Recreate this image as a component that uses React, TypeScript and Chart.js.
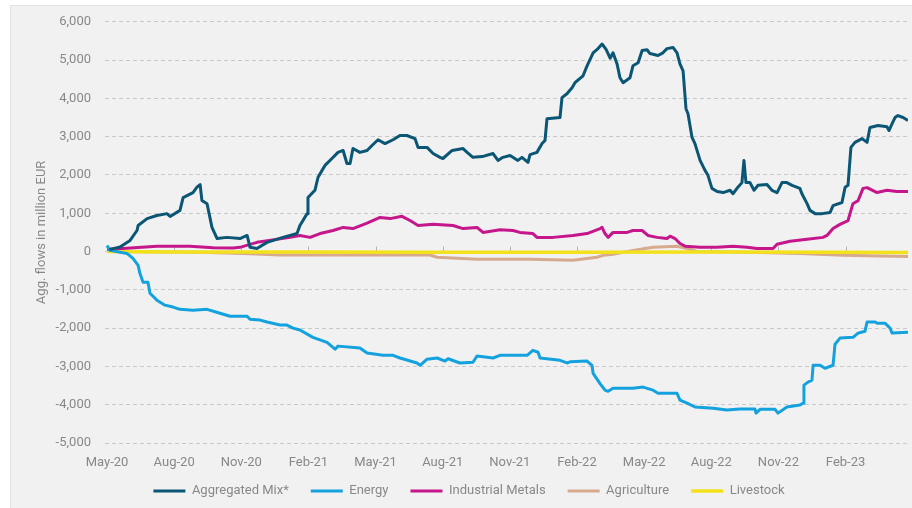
import React, { useEffect, useRef } from "react";
import { Chart, registerables } from "chart.js";

Chart.register(...registerables);

// x = months since 1 May 2020, y = aggregated flows in million EUR
const tickLabels = ["May-20", "Aug-20", "Nov-20", "Feb-21", "May-21", "Aug-21", "Nov-21", "Feb-22", "May-22", "Aug-22", "Nov-22", "Feb-23"];
const seriesNames = ["Aggregated Mix*", "Energy", "Industrial Metals", "Agriculture", "Livestock"];

const aggregatedMix: [number, number][] = [
  [0.1, 50], [0.58, 120], [1.03, 290], [1.34, 550], [1.39, 680], [1.79, 860], [2.23, 940], [2.68, 990], [2.82, 915],
  [3.26, 1075], [3.4, 1410], [3.84, 1540], [4.02, 1680], [4.16, 1750], [4.24, 1335], [4.47, 1250], [4.69, 630],
  [4.92, 340], [5.36, 370], [5.94, 340], [6.26, 420], [6.39, 110], [6.7, 80], [7.15, 240], [7.86, 370], [8.49, 470],
  [8.62, 680], [8.94, 990], [8.98, 1410], [9.29, 1600], [9.43, 1940], [9.61, 2120], [9.74, 2250], [10.05, 2430],
  [10.32, 2590], [10.55, 2640], [10.72, 2300], [10.86, 2300], [10.99, 2690], [11.3, 2590], [11.62, 2640],
  [11.84, 2770], [12.11, 2920], [12.42, 2820], [12.78, 2920], [13.09, 3030], [13.4, 3030], [13.76, 2950],
  [13.9, 2720], [14.3, 2720], [14.57, 2560], [14.88, 2460], [15.01, 2430], [15.42, 2640], [15.91, 2690],
  [16.09, 2590], [16.35, 2460], [16.76, 2480], [17.25, 2560], [17.47, 2380], [17.69, 2460], [18.01, 2510],
  [18.36, 2380], [18.54, 2460], [18.81, 2330], [18.9, 2530], [19.21, 2590], [19.44, 2820], [19.57, 2900],
  [19.66, 3470], [20.24, 3500], [20.33, 4020], [20.55, 4120], [20.78, 4280], [20.91, 4410], [21.27, 4590],
  [21.45, 4850], [21.72, 5190], [21.94, 5300], [22.12, 5420], [22.3, 5280], [22.48, 5050], [22.61, 5190],
  [22.79, 4900], [22.92, 4540], [23.06, 4410], [23.37, 4540], [23.5, 4850], [23.73, 4930], [23.91, 5250],
  [24.13, 5270], [24.26, 5170], [24.62, 5120], [24.84, 5190], [25.02, 5300], [25.29, 5330], [25.47, 5190],
  [25.6, 4900], [25.74, 4720], [25.87, 3730], [25.96, 3600], [26.14, 2980], [26.27, 2820], [26.5, 2380],
  [26.72, 2120], [26.85, 1990], [27.03, 1650], [27.26, 1570], [27.53, 1540], [27.84, 1600], [27.97, 1510],
  [28.19, 1680], [28.37, 1800], [28.46, 2380], [28.55, 1800], [28.73, 1800], [28.91, 1600], [29.09, 1730],
  [29.49, 1750], [29.71, 1600], [29.94, 1540], [30.16, 1800], [30.38, 1800], [30.61, 1730], [30.96, 1650],
  [31.05, 1510], [31.28, 1250], [31.41, 1075], [31.64, 990], [31.95, 990], [32.31, 1020], [32.44, 1200],
  [32.84, 1280], [32.98, 1680], [33.11, 1730], [33.24, 2720], [33.42, 2850], [33.74, 2950], [33.96, 2850],
  [34.09, 3240], [34.45, 3290], [34.85, 3260], [34.94, 3160], [35.08, 3340], [35.21, 3500], [35.34, 3550],
  [35.57, 3500], [35.79, 3420],
];

const energy: [number, number][] = [
  [0, 160], [0.13, 30], [0.89, -50], [1.16, -180], [1.39, -360], [1.47, -570], [1.61, -800], [1.83, -800],
  [1.92, -1090], [2.23, -1270], [2.59, -1400], [2.95, -1450], [3.26, -1510], [3.84, -1530], [4.47, -1510],
  [5.05, -1610], [5.5, -1690], [6.26, -1690], [6.39, -1770], [6.84, -1790], [7.15, -1840], [7.73, -1920],
  [8.04, -1920], [8.31, -2000], [8.62, -2050], [9.2, -2240], [9.83, -2370], [10.19, -2550], [10.32, -2470],
  [11.3, -2520], [11.62, -2650], [12.33, -2710], [12.78, -2710], [13.09, -2780], [13.85, -2910], [13.99, -2970],
  [14.3, -2810], [14.75, -2780], [15.1, -2860], [15.24, -2800], [15.77, -2910], [16.35, -2890], [16.53, -2730],
  [16.98, -2760], [17.25, -2780], [17.56, -2710], [18.77, -2710], [19.03, -2580], [19.26, -2630], [19.35, -2780],
  [20.24, -2840], [20.55, -2910], [20.69, -2880], [21.45, -2860], [21.67, -2970], [21.72, -3180], [22.03, -3450],
  [22.25, -3620], [22.39, -3650], [22.61, -3570], [23.5, -3570], [23.95, -3540], [24.4, -3620], [24.62, -3700],
  [25.47, -3700], [25.6, -3880], [25.92, -3960], [26.27, -4060], [27.08, -4090], [27.7, -4140], [28.28, -4110],
  [28.95, -4110], [29.0, -4220], [29.18, -4120], [29.85, -4120], [29.98, -4220], [30.38, -4060], [30.96, -4010],
  [31.1, -3960], [31.14, -3490], [31.32, -3410], [31.5, -3360], [31.55, -2970], [31.86, -2970], [32.08, -3050],
  [32.44, -2970], [32.53, -2420], [32.75, -2260], [33.33, -2240], [33.56, -2130], [33.87, -2080], [33.96, -1840],
  [34.32, -1840], [34.41, -1870], [34.76, -1870], [34.99, -2000], [35.08, -2130], [35.79, -2110],
];

const industrialMetals: [number, number][] = [
  [0, 60], [0.71, 80], [2.23, 140], [3.71, 140], [4.74, 100], [5.63, 90], [5.94, 110], [6.7, 240], [8.18, 370],
  [8.62, 420], [9.07, 370], [9.52, 470], [10.1, 550], [10.55, 630], [10.99, 600], [11.62, 740], [12.2, 890],
  [12.65, 860], [13.18, 920], [13.54, 810], [13.9, 680], [14.57, 710], [15.46, 680], [15.91, 600], [16.53, 630],
  [16.8, 500], [17.56, 570], [18.14, 550], [18.45, 500], [19.03, 470], [19.21, 370], [19.93, 370], [20.82, 420],
  [21.45, 470], [22.03, 600], [22.12, 630], [22.25, 470], [22.39, 370], [22.61, 500], [22.83, 500], [23.24, 500],
  [23.5, 550], [23.91, 550], [24.17, 420], [24.58, 370], [25.02, 340], [25.16, 400], [25.38, 340], [25.6, 210],
  [25.83, 140], [26.5, 110], [27.26, 110], [27.97, 140], [28.6, 110], [29.04, 80], [29.76, 80], [29.94, 190],
  [30.52, 270], [31.28, 320], [31.99, 370], [32.17, 420], [32.44, 600], [32.75, 710], [33.11, 810], [33.33, 1250],
  [33.56, 1330], [33.78, 1650], [33.96, 1670], [34.41, 1540], [34.85, 1600], [35.3, 1570], [35.79, 1570],
];

const agriculture: [number, number][] = [
  [0, 0], [4.16, -20], [6.39, -60], [7.73, -90], [14.43, -90], [14.75, -150], [16.53, -200], [18.9, -200],
  [20.82, -230], [21.89, -150], [22.16, -100], [22.61, -70], [23.5, 30], [24.4, 110], [25.47, 140], [25.92, 80],
  [26.36, 0], [28.73, -20], [30.96, -50], [32.89, -100], [35.79, -130],
];

const livestock: [number, number][] = [
  [0, 0], [3, -10], [9, -15], [15, -20], [21, -20], [27, -15], [33, -20], [35.79, -25],
];

const colors = ["#0b5675", "#14a2df", "#c5168b", "#d7aa8d", "#f3e11c"];
const widths = [3, 3, 3, 3, 3.5];
const drawOrder = [0, 1, 2, 4, 3];

const zeroTicks = {
  id: "zeroTicks",
  afterLayout(chart: any) {
    const lg = chart.legend;
    if (lg) {
      lg.top -= 10.5;
      lg.bottom -= 10.5;
    }
  },
  beforeDatasetsDraw(chart: any) {
    const { ctx, scales } = chart;
    const xs = scales.x;
    const y0 = scales.y.getPixelForValue(0);
    ctx.save();
    ctx.strokeStyle = "#b4b4b4";
    ctx.lineWidth = 1;
    xs.ticks.forEach((t: any) => {
      const px = Math.round(xs.getPixelForValue(t.value)) + 0.5;
      ctx.beginPath();
      ctx.moveTo(px, y0 - 5);
      ctx.lineTo(px, y0);
      ctx.stroke();
    });
    ctx.restore();
  },
};

export default function App() {
  const ref = useRef<HTMLCanvasElement>(null);
  useEffect(() => {
    const series = [aggregatedMix, energy, industrialMetals, agriculture, livestock];
    Chart.defaults.font.family = "Roboto";
    const chart = new Chart(ref.current!, {
      type: "line",
      data: {
        datasets: series.map((s, i) => ({
          label: seriesNames[i],
          data: s.map(([x, y]) => ({ x, y })),
          borderColor: colors[i],
          backgroundColor: colors[i],
          borderWidth: widths[i],
          pointRadius: 0,
          tension: 0,
          fill: false,
          borderJoinStyle: "round" as const,
          order: drawOrder[i],
        })),
      },
      options: {
        responsive: false,
        animation: false,
        layout: { padding: { left: 30, right: 4, top: 21, bottom: -10 } },
        scales: {
          x: {
            type: "linear",
            min: -0.09,
            max: 35.79,
            grid: { display: false, drawTicks: false },
            border: { display: false },
            ticks: {
              stepSize: 3,
              includeBounds: false,
              autoSkip: false,
              maxRotation: 0,
              padding: 12,
              color: "#888888",
              font: { size: 13 },
              callback: (v: any) => tickLabels[Math.round(Number(v) / 3)] ?? "",
            },
            afterFit: (s: any) => {
              s.height = 30;
            },
          },
          y: {
            min: -5000,
            max: 6000,
            grid: { color: "#c9c9c9", drawTicks: false, lineWidth: 1 },
            border: { display: false, dash: [4, 3] },
            ticks: {
              stepSize: 1000,
              padding: 14,
              color: "#888888",
              font: { size: 13 },
              callback: (v: any) => Number(v).toLocaleString("en-US"),
            },
            title: {
              display: true,
              text: "Agg. flows in million EUR",
              color: "#888888",
              font: { size: 13 },
              padding: { top: 4, bottom: 4 },
            },
            afterFit: (s: any) => {
              s.width = 75;
            },
          },
        },
        plugins: {
          legend: {
            position: "bottom",
            labels: {
              usePointStyle: true,
              pointStyle: "line",
              pointStyleWidth: 32,
              padding: 22,
              color: "#888888",
              font: { size: 13 },
              sort: (a: any, b: any) => a.datasetIndex - b.datasetIndex,
            },
          },
          tooltip: { enabled: false },
        },
      },
      plugins: [zeroTicks],
    });
    return () => chart.destroy();
  }, []);

  return (
    <div style={{ position: "fixed", left: 0, top: 0, width: 912, height: 508, background: "#ffffff", overflow: "hidden" }}>
      <div
        style={{
          position: "absolute",
          left: 10,
          top: 5,
          right: 0,
          bottom: 0,
          background: "#f1f1f1",
          borderLeft: "1px solid #e2e2e2",
          borderTop: "1px solid #e2e2e2",
        }}
      />
      <canvas ref={ref} width={912} height={508} style={{ position: "absolute", left: 0, top: 0, width: 912, height: 508 }} />
    </div>
  );
}
